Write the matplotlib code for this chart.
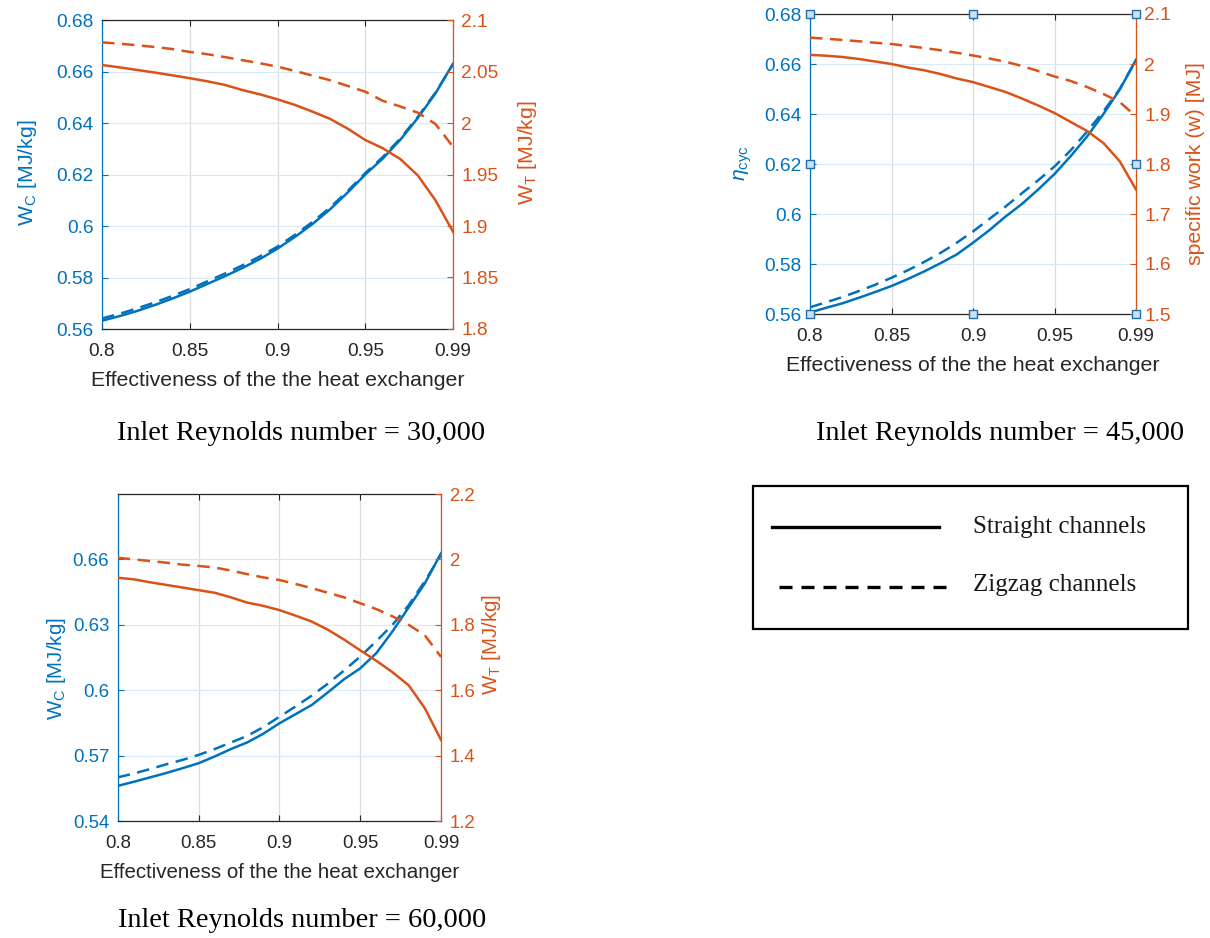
import matplotlib
matplotlib.use("Agg")
import matplotlib.pyplot as plt
from matplotlib.lines import Line2D
from matplotlib.patches import Rectangle

plt.rcParams['font.family'] = ['Liberation Sans', 'DejaVu Sans']
plt.rcParams['mathtext.fontset'] = 'custom'
plt.rcParams['mathtext.rm'] = 'Liberation Sans'
plt.rcParams['mathtext.it'] = 'Liberation Sans:italic'
plt.rcParams['mathtext.default'] = 'regular'

BLUE = '#0072BD'
ORANGE = '#D95319'
DARK = '#262626'

# ---------------- data ----------------
eff = [0.80, 0.81, 0.82, 0.83, 0.84, 0.85, 0.86, 0.87, 0.88, 0.89, 0.90,
       0.91, 0.92, 0.93, 0.94, 0.95, 0.96, 0.97, 0.98, 0.99, 1.00]
x_ticks = [0.80, 0.85, 0.90, 0.95, 1.00]
x_ticklabels = ['0.8', '0.85', '0.9', '0.95', '0.99']

# Re = 30,000
straight_30_wc = [0.5632, 0.5650, 0.5670, 0.5693, 0.5718, 0.5745, 0.5775, 0.5805, 0.5837, 0.5872, 0.5912,
                  0.5958, 0.6008, 0.6065, 0.6130, 0.6200, 0.6262, 0.6335, 0.6420, 0.6515, 0.6630]
zigzag_30_wc = [0.5641, 0.5659, 0.5680, 0.5703, 0.5728, 0.5755, 0.5785, 0.5815, 0.5847, 0.5882, 0.5920,
                0.5966, 0.6016, 0.6072, 0.6136, 0.6205, 0.6268, 0.6340, 0.6424, 0.6518, 0.6628]
straight_30_wt = [2.0563, 2.0540, 2.0515, 2.0490, 2.0463, 2.0435, 2.0405, 2.0370, 2.0320, 2.0278, 2.0230,
                  2.0175, 2.0110, 2.0040, 1.9945, 1.9835, 1.9755, 1.9650, 1.9490, 1.9250, 1.8945]
zigzag_30_wt = [2.0783, 2.0770, 2.0755, 2.0738, 2.0718, 2.0690, 2.0668, 2.0640, 2.0610, 2.0580, 2.0547,
                2.0505, 2.0460, 2.0415, 2.0360, 2.0304, 2.0215, 2.0160, 2.0100, 1.9990, 1.9770]

# Re = 45,000
straight_45_eta = [0.5606, 0.5625, 0.5643, 0.5665, 0.5688, 0.5712, 0.5740, 0.5770, 0.5803, 0.5838, 0.5885,
                   0.5935, 0.5990, 0.6040, 0.6098, 0.6160, 0.6232, 0.6310, 0.6400, 0.6497, 0.6617]
zigzag_45_eta = [0.5627, 0.5647, 0.5668, 0.5692, 0.5717, 0.5745, 0.5775, 0.5808, 0.5844, 0.5885, 0.5930,
                 0.5980, 0.6030, 0.6083, 0.6135, 0.6190, 0.6255, 0.6330, 0.6410, 0.6500, 0.6615]
straight_45_w = [2.0183, 2.0165, 2.0140, 2.0100, 2.0050, 2.0000, 1.9930, 1.9875, 1.9800, 1.9710, 1.9638,
                 1.9540, 1.9440, 1.9310, 1.9170, 1.9020, 1.8840, 1.8660, 1.8420, 1.8056, 1.7490]
zigzag_45_w = [2.0528, 2.0505, 2.0480, 2.0455, 2.0425, 2.0400, 2.0360, 2.0320, 2.0275, 2.0225, 2.0170,
               2.0110, 2.0045, 1.9960, 1.9860, 1.9750, 1.9660, 1.9540, 1.9400, 1.9240, 1.8953]

# Re = 60,000
straight_60_wc = [0.5561, 0.5580, 0.5600, 0.5620, 0.5642, 0.5665, 0.5696, 0.5730, 0.5760, 0.5800, 0.5848,
                  0.5890, 0.5932, 0.5990, 0.6050, 0.6100, 0.6170, 0.6270, 0.6380, 0.6490, 0.6628]
zigzag_60_wc = [0.5600, 0.5618, 0.5638, 0.5660, 0.5680, 0.5703, 0.5730, 0.5760, 0.5790, 0.5830, 0.5878,
                0.5925, 0.5975, 0.6030, 0.6090, 0.6154, 0.6225, 0.6300, 0.6390, 0.6500, 0.6620]
straight_60_wt = [1.944, 1.939, 1.930, 1.922, 1.914, 1.906, 1.898, 1.884, 1.868, 1.858, 1.845,
                  1.828, 1.810, 1.785, 1.755, 1.722, 1.690, 1.655, 1.615, 1.545, 1.448]
zigzag_60_wt = [2.005, 2.000, 1.995, 1.990, 1.984, 1.980, 1.975, 1.966, 1.955, 1.945, 1.937,
                1.925, 1.912, 1.898, 1.884, 1.866, 1.848, 1.826, 1.800, 1.768, 1.702]

left_ticks_a = [0.56, 0.58, 0.60, 0.62, 0.64, 0.66, 0.68]
left_labels_a = ['0.56', '0.58', '0.6', '0.62', '0.64', '0.66', '0.68']
right_ticks_30 = [1.80, 1.85, 1.90, 1.95, 2.00, 2.05, 2.10]
right_labels_30 = ['1.8', '1.85', '1.9', '1.95', '2', '2.05', '2.1']
right_ticks_45 = [1.5, 1.6, 1.7, 1.8, 1.9, 2.0, 2.1]
right_labels_45 = ['1.5', '1.6', '1.7', '1.8', '1.9', '2', '2.1']
left_ticks_60 = [0.54, 0.57, 0.60, 0.63, 0.66]
left_labels_60 = ['0.54', '0.57', '0.6', '0.63', '0.66']
right_ticks_60 = [1.2, 1.4, 1.6, 1.8, 2.0, 2.2]
right_labels_60 = ['1.2', '1.4', '1.6', '1.8', '2', '2.2']

captions = ['Inlet Reynolds number = 30,000', 'Inlet Reynolds number = 45,000',
            'Inlet Reynolds number = 60,000']
legend_labels = ['Straight channels', 'Zigzag channels']

W, H = 1210, 938
fig = plt.figure(figsize=(W / 100, H / 100), dpi=100)


def px_axes(x0, y0, x1, y1):
    return fig.add_axes([x0 / W, 1 - y1 / H, (x1 - x0) / W, (y1 - y0) / H])


LW = 1.8
DASH = (5.0, 3.0)


def panel(box, sl, zl, sr, zr, ylim_l, lt, ll, ylim_r, rt, rl, fs, lfs,
          ylab_l, ylab_r, lpos, rpos):
    ax = px_axes(*box)
    ax2 = ax.twinx()
    ax.plot(eff, sl, color=BLUE, lw=LW)
    ax.plot(eff, zl, color=BLUE, lw=LW, ls=(0, DASH))
    ax2.plot(eff, sr, color=ORANGE, lw=LW)
    ax2.plot(eff, zr, color=ORANGE, lw=LW, ls=(0, DASH))
    ax.set_xlim(0.8, 1.0)
    ax.set_ylim(*ylim_l)
    ax2.set_ylim(*ylim_r)
    ax.set_xticks(x_ticks)
    ax.set_xticklabels(x_ticklabels)
    ax.set_yticks(lt)
    ax.set_yticklabels(ll)
    ax2.set_yticks(rt)
    ax2.set_yticklabels(rl)
    ax.grid(True, axis='x', color='#dcdcdc', lw=0.9)
    ax.grid(True, axis='y', color='#d9e9f5', lw=0.9)
    ax.set_axisbelow(True)
    ax.tick_params(axis='x', direction='in', top=True, length=4, width=0.8,
                   color=DARK, labelcolor=DARK, labelsize=fs, pad=10)
    ax.tick_params(axis='y', direction='in', length=4, width=0.8,
                   color=BLUE, labelcolor=BLUE, labelsize=fs, pad=6)
    ax2.tick_params(axis='y', direction='in', length=4, width=0.8,
                    color=ORANGE, labelcolor=ORANGE, labelsize=fs, pad=6)
    for s in ['top', 'bottom']:
        ax.spines[s].set_color(DARK)
        ax.spines[s].set_linewidth(0.9)
        ax2.spines[s].set_visible(False)
    ax.spines['left'].set_color(BLUE)
    ax.spines['left'].set_linewidth(0.9)
    ax.spines['right'].set_visible(False)
    ax2.spines['left'].set_visible(False)
    ax2.spines['right'].set_color(ORANGE)
    ax2.spines['right'].set_linewidth(0.9)
    ax.set_xlabel('Effectiveness of the the heat exchanger', fontsize=lfs,
                  color=DARK, labelpad=8)
    ax.text(lpos[0], lpos[1], ylab_l, transform=ax.transAxes, rotation=90,
            ha='center', va='center', color=BLUE, fontsize=lfs)
    ax.text(rpos[0], rpos[1], ylab_r, transform=ax.transAxes, rotation=90,
            ha='center', va='center', color=ORANGE, fontsize=lfs)
    return ax, ax2


panel((102, 20, 453, 329), straight_30_wc, zigzag_30_wc, straight_30_wt, zigzag_30_wt,
      (0.56, 0.68), left_ticks_a, left_labels_a, (1.8, 2.1), right_ticks_30, right_labels_30,
      13.8, 15.3, r'W$_{C}$ [MJ/kg]', r'W$_{T}$ [MJ/kg]', (-0.212, 0.505), (1.213, 0.57))

ax_b, ax_b2 = panel((810, 14, 1136, 314), straight_45_eta, zigzag_45_eta, straight_45_w, zigzag_45_w,
                    (0.56, 0.68), left_ticks_a, left_labels_a, (1.5, 2.1), right_ticks_45, right_labels_45,
                    13.8, 15.3, r'$\mathit{\eta}_{cyc}$', 'specific work (w) [MJ]',
                    (-0.205, 0.502), (1.181, 0.503))
# selection handles on panel 2
hx = [0, 0.5, 1, 0, 1, 0, 0.5, 1]
hy = [0, 0, 0, 0.5, 0.5, 1, 1, 1]
ax_b2.plot(hx, hy, ls='none', marker='s', ms=5.8, mfc='#cfe0f0', mec='#1f6fb0', mew=1.0,
           transform=ax_b.transAxes, clip_on=False, zorder=10)

panel((117.7, 494, 441, 821), straight_60_wc, zigzag_60_wc, straight_60_wt, zigzag_60_wt,
      (0.54, 0.69), left_ticks_60, left_labels_60, (1.2, 2.2), right_ticks_60, right_labels_60,
      13.4, 14.8, r'W$_{C}$ [MJ/kg]', r'W$_{T}$ [MJ/kg]', (-0.188, 0.465), (1.155, 0.541))

# captions
serif = ['Liberation Serif', 'DejaVu Serif']
for (cx, cy), t in zip([(301, 433), (1000, 433), (301.7, 920)], captions):
    fig.text(cx / W, 1 - cy / H, t, ha='center', va='center', fontsize=20.4,
             family=serif, color='black')

# legend box
fig.add_artist(Rectangle((753 / W, 1 - 629 / H), (1188 - 753) / W, (629 - 486) / H,
                         transform=fig.transFigure, fill=False, ec='black', lw=1.6))
fig.add_artist(Line2D([772 / W, 939 / W], [1 - 527 / H, 1 - 527 / H],
                      transform=fig.transFigure, color='black', lw=2.4))
fig.add_artist(Line2D([779 / W, 947 / W], [1 - 587 / H, 1 - 587 / H],
                      transform=fig.transFigure, color='black', lw=2.4, ls=(0, (3.9, 2.7))))
fig.text(973 / W, 1 - 527 / H, legend_labels[0], ha='left', va='center',
         fontsize=18, family=serif, color='#1a1a1a')
fig.text(973 / W, 1 - 585 / H, legend_labels[1], ha='left', va='center',
         fontsize=18, family=serif, color='#1a1a1a')

fig.savefig('out.png', dpi=100)
